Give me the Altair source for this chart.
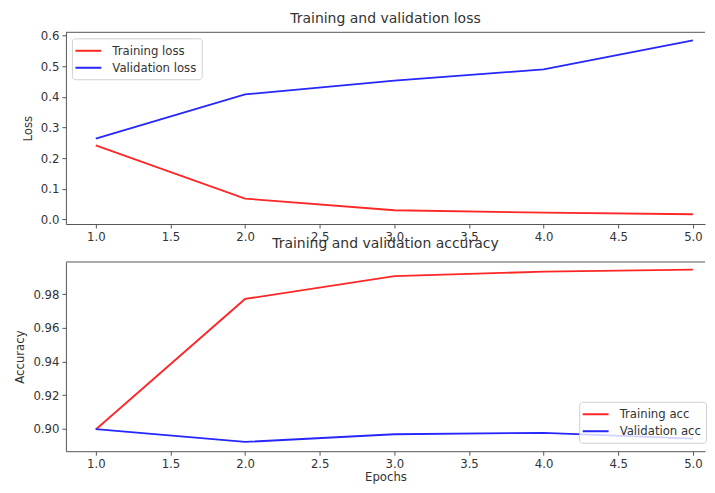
import altair as alt
import pandas as pd

epochs = [1, 2, 3, 4, 5]
train_loss = [0.242, 0.068, 0.030, 0.022, 0.017]
val_loss = [0.264, 0.408, 0.453, 0.490, 0.585]
train_acc = [0.8995, 0.9772, 0.9908, 0.9934, 0.9947]
val_acc = [0.8997, 0.8921, 0.8967, 0.8975, 0.8941]

x_ticks = [1.0, 1.5, 2.0, 2.5, 3.0, 3.5, 4.0, 4.5, 5.0]
loss_ticks = [0.0, 0.1, 0.2, 0.3, 0.4, 0.5, 0.6]
acc_ticks = [0.90, 0.92, 0.94, 0.96, 0.98]

loss_series = ["Training loss", "Validation loss"]
acc_series = ["Training acc", "Validation acc"]
colors = ["#ff2626", "#2626ff"]

FONT = "DejaVu Sans"
SMALL = 11.7
W = 640
X_DOMAIN = [0.8, 5.081]
SPINE = "#555555"

loss_df = pd.DataFrame({
    "epoch": epochs * 2,
    "value": train_loss + val_loss,
    "series": [loss_series[0]] * 5 + [loss_series[1]] * 5,
})
acc_df = pd.DataFrame({
    "epoch": epochs * 2,
    "value": train_acc + val_acc,
    "series": [acc_series[0]] * 5 + [acc_series[1]] * 5,
})


def legend(**pos):
    return alt.Legend(
        title=None,
        fillColor="rgba(255,255,255,0.8)",
        strokeColor="#d0d0d0",
        cornerRadius=3,
        padding=4.5,
        symbolType="M-1.85,0H1.85",
        symbolSize=196,
        symbolStrokeWidth=2,
        symbolOffset=4,
        rowPadding=2,
        labelOffset=16,
        labelFont=FONT,
        labelFontSize=SMALL,
        labelColor="#333333",
        **pos,
    )


def xaxis(title):
    kw = dict(values=x_ticks, format=".1f", grid=False, domain=True,
              domainColor=SPINE, tickSize=4, tickColor=SPINE, labelPadding=3,
              labelFont=FONT, labelFontSize=SMALL, labelColor="#333333")
    if title:
        kw.update(title=title, titleFont=FONT, titleFontSize=SMALL,
                  titleFontWeight="normal", titleColor="#333333",
                  titlePadding=1.5)
    else:
        kw.update(title=None)
    return alt.Axis(**kw)


def yaxis(title, ticks, fmt):
    return alt.Axis(values=ticks, format=fmt, grid=False, domain=True,
                    domainColor=SPINE, tickSize=4, tickColor=SPINE, labelPadding=3,
                    labelFont=FONT, labelFontSize=SMALL, labelColor="#333333",
                    title=title, titleFont=FONT, titleFontSize=SMALL,
                    titleFontWeight="normal", titleColor="#333333",
                    titlePadding=7)


def title(text, offset):
    return alt.TitleParams(text=text, font=FONT, fontSize=14,
                           fontWeight="normal", color="#333333", offset=offset)


top_spine = alt.Chart(pd.DataFrame({"k": [0]})).mark_rule(
    color=SPINE, strokeWidth=1
).encode(x=alt.value(0), x2=alt.value(W), y=alt.value(0))

loss_lines = alt.Chart(loss_df).mark_line(strokeWidth=1.8).encode(
    x=alt.X("epoch:Q", scale=alt.Scale(domain=X_DOMAIN, nice=False, zero=False),
            axis=xaxis(None)),
    y=alt.Y("value:Q", scale=alt.Scale(domain=[-0.015, 0.611], nice=False, zero=False),
            axis=yaxis("Loss", loss_ticks, ".1f")),
    color=alt.Color("series:N", scale=alt.Scale(domain=loss_series, range=colors),
                    legend=legend(orient="top-left", offset=6)),
)
loss_chart = alt.layer(loss_lines, top_spine).properties(
    width=W, height=192, title=title("Training and validation loss", 5))

acc_lines = alt.Chart(acc_df).mark_line(strokeWidth=1.8).encode(
    x=alt.X("epoch:Q", scale=alt.Scale(domain=X_DOMAIN, nice=False, zero=False),
            axis=xaxis("Epochs")),
    y=alt.Y("value:Q", scale=alt.Scale(domain=[0.8866, 0.9992], nice=False, zero=False),
            axis=yaxis("Accuracy", acc_ticks, ".2f")),
    color=alt.Color("series:N", scale=alt.Scale(domain=acc_series, range=colors),
                    legend=legend(orient="none", legendX=514, legendY=140)),
)
acc_chart = alt.layer(acc_lines, top_spine).properties(
    width=W, height=189.5, title=title("Training and validation accuracy", 10))

chart = alt.vconcat(loss_chart, acc_chart, spacing=-6).resolve_scale(
    color="independent", x="independent", y="independent"
).properties(
    padding={"left": 6, "top": 3, "right": 0, "bottom": 0},
    background="white",
).configure_view(stroke=None)

chart.save("out.html", embed_options={"renderer": "svg", "actions": False})
